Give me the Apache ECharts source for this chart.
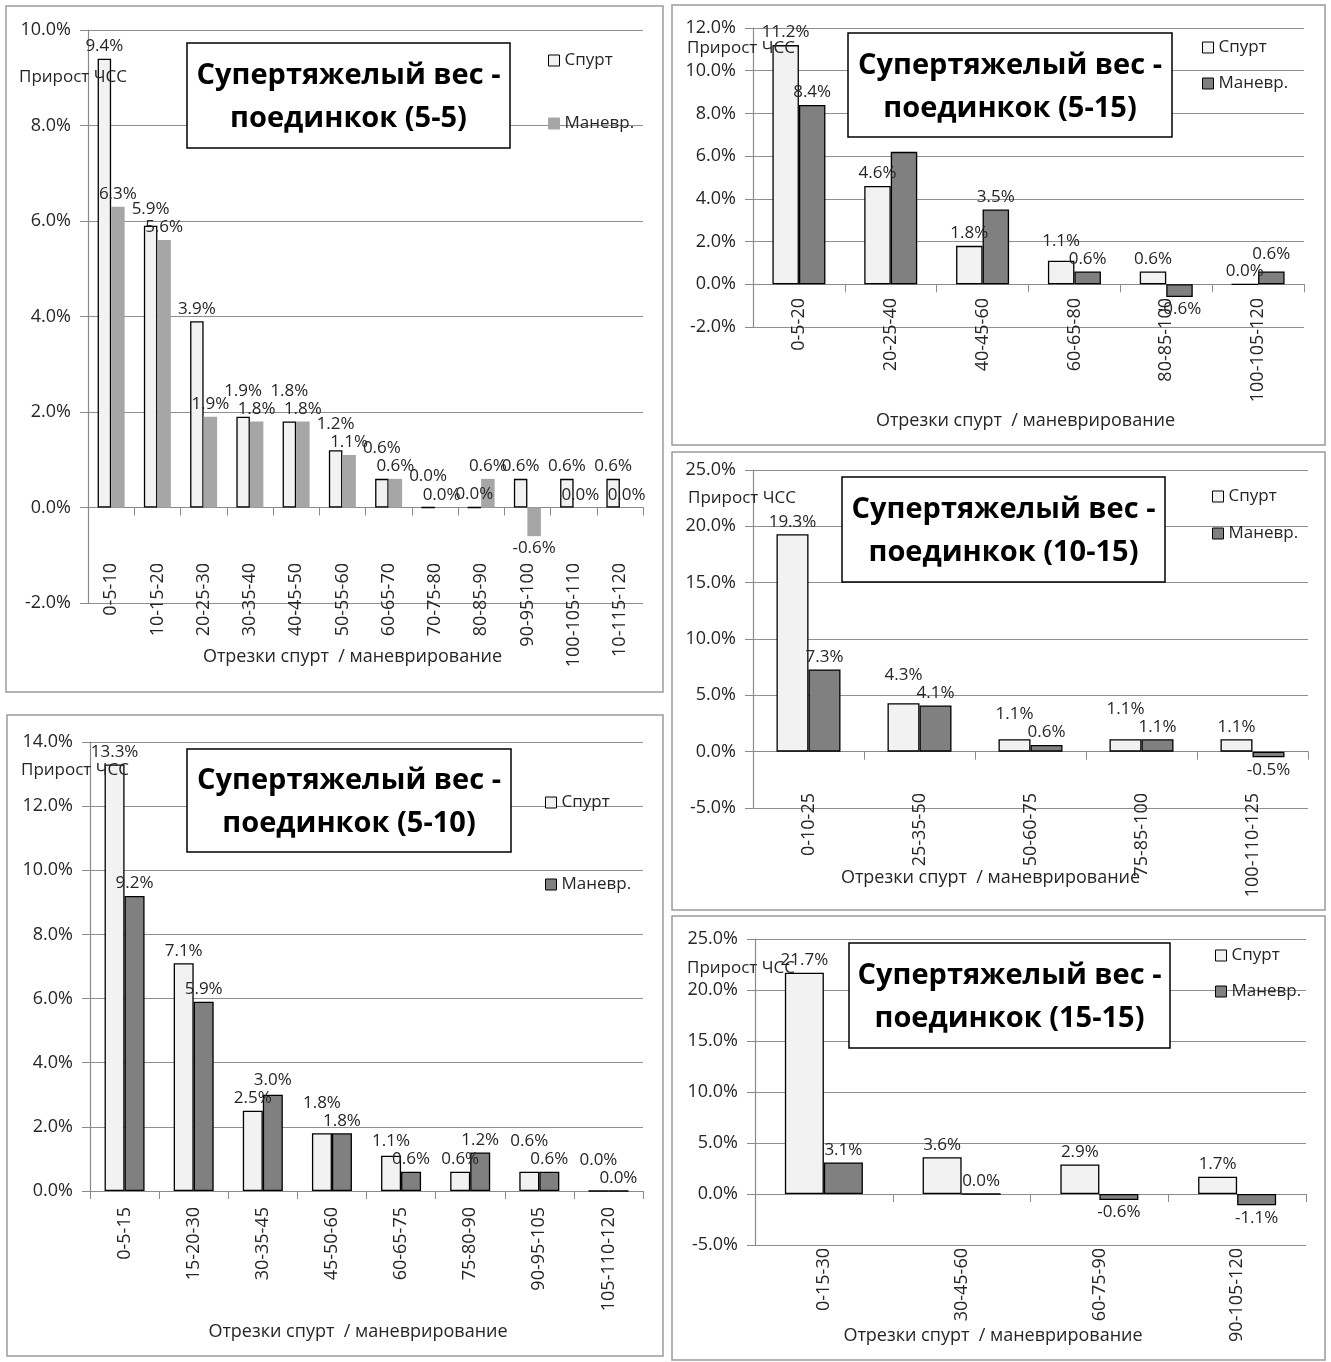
<!DOCTYPE html>
<html>
<head>
<meta charset="utf-8">
<script src="https://cdn.jsdelivr.net/npm/echarts@6/dist/echarts.min.js"></script>
<style>
  html, body { margin: 0; padding: 0; background: #fff; }
  #chart { width: 1331px; height: 1362px; }
</style>
</head>
<body>
<div id="chart"></div>
<script>
// Heart-rate increase (%) per interval: sprint vs manoeuvring, super-heavyweight bouts.
const seriesNames = ['Спурт', 'Маневр.'];
const titleLine1 = 'Супертяжелый вес -';
const yName = 'Прирост ЧСС';
const xName = 'Отрезки спурт  / маневрирование';

// bout 5-5
const cats55 = ['0-5-10', '10-15-20', '20-25-30', '30-35-40', '40-45-50', '50-55-60',
  '60-65-70', '70-75-80', '80-85-90', '90-95-100', '100-105-110', '10-115-120'];
const spurt55 = [9.4, 5.9, 3.9, 1.9, 1.8, 1.2, 0.6, 0.0, 0.0, 0.6, 0.6, 0.6];
const manev55 = [6.3, 5.6, 1.9, 1.8, 1.8, 1.1, 0.6, 0.0, 0.6, -0.6, 0.0, 0.0];
const yTicks55 = { min: -2, max: 10, step: 2 };

// bout 5-15
const cats515 = ['0-5-20', '20-25-40', '40-45-60', '60-65-80', '80-85-100', '100-105-120'];
const spurt515 = [11.2, 4.6, 1.8, 1.1, 0.6, 0.0];
const manev515 = [8.4, 6.2, 3.5, 0.6, -0.6, 0.6];
const yTicks515 = { min: -2, max: 12, step: 2 };

// bout 10-15
const cats1015 = ['0-10-25', '25-35-50', '50-60-75', '75-85-100', '100-110-125'];
const spurt1015 = [19.3, 4.3, 1.1, 1.1, 1.1];
const manev1015 = [7.3, 4.1, 0.6, 1.1, -0.5];
const yTicks1015 = { min: -5, max: 25, step: 5 };

// bout 5-10
const cats510 = ['0-5-15', '15-20-30', '30-35-45', '45-50-60', '60-65-75', '75-80-90',
  '90-95-105', '105-110-120'];
const spurt510 = [13.3, 7.1, 2.5, 1.8, 1.1, 0.6, 0.6, 0.0];
const manev510 = [9.2, 5.9, 3.0, 1.8, 0.6, 1.2, 0.6, 0.0];
const yTicks510 = { min: 0, max: 14, step: 2 };

// bout 15-15
const cats1515 = ['0-15-30', '30-45-60', '60-75-90', '90-105-120'];
const spurt1515 = [21.7, 3.6, 2.9, 1.7];
const manev1515 = [3.1, 0.0, -0.6, -1.1];
const yTicks1515 = { min: -5, max: 25, step: 5 };

const FONT = '"Open Sans", "Noto Sans", sans-serif';
const TEXT = '#262626';
const GRID_LINE = '#8f8f8f';
const LABEL_STEP = 18; // minimal vertical spacing between the two value labels of a pair

// Layout of the five panels (label margin and name gap are measured from the grid bottom)
const panels = [
  { bout: '5-5', cats: cats55, spurt: spurt55, manev: manev55, y: yTicks55, hideManev: [],
    frame: [6, 6, 657, 686], grid: [88, 30, 555, 573], barWidth: 13.5,
    labelMargin: -40, nameGap: 45, namePad: 26,
    box: [187, 43, 323, 105], yNamePos: [73, 77], legend: [548, 52, 46],
    manevColor: '#a6a6a6', manevBorder: 0 },
  { bout: '5-15', cats: cats515, spurt: spurt515, manev: manev515, y: yTicks515, hideManev: [1],
    frame: [672, 5, 653, 440], grid: [753, 28, 551, 299], barWidth: 26.5,
    labelMargin: -29, nameGap: 85, namePad: 6,
    box: [848, 33, 324, 104], yNamePos: [741, 48], legend: [1202, 39, 19],
    manevColor: '#808080', manevBorder: 1.3 },
  { bout: '10-15', cats: cats1015, spurt: spurt1015, manev: manev1015, y: yTicks1015, hideManev: [],
    frame: [672, 452, 653, 458], grid: [753, 470, 555, 338], barWidth: 32,
    labelMargin: -15, nameGap: 61, namePad: 80,
    box: [842, 477, 323, 105], yNamePos: [742, 498], legend: [1212, 488, 20],
    manevColor: '#808080', manevBorder: 1.3 },
  { bout: '5-10', cats: cats510, spurt: spurt510, manev: manev510, y: yTicks510, hideManev: [],
    frame: [7, 715, 656, 641], grid: [90, 742, 553, 449], barWidth: 20,
    labelMargin: 16, nameGap: 132, namePad: 17,
    box: [187, 749, 324, 103], yNamePos: [75, 770], legend: [545, 794, 65],
    manevColor: '#808080', manevBorder: 1.3 },
  { bout: '15-15', cats: cats1515, spurt: spurt1515, manev: manev1515, y: yTicks1515, hideManev: [],
    frame: [672, 916, 653, 444], grid: [755, 939, 551, 306], barWidth: 39,
    labelMargin: 3, nameGap: 82, namePad: 75,
    box: [849, 943, 321, 105], yNamePos: [741, 968], legend: [1215, 947, 19],
    manevColor: '#808080', manevBorder: 1.3 }
];

const pct = v => Number(v).toFixed(1) + '%';

// When two neighbouring value labels would collide, raise the one of the taller bar.
function labelLifts(p) {
  const ppu = p.grid[3] / (p.y.max - p.y.min);
  const s = [], m = [];
  p.spurt.forEach((sv, k) => {
    const mv = p.manev[k];
    let ls = 0, lm = 0;
    const gap = Math.abs(sv - mv) * ppu;
    if (p.barWidth < 40 && sv >= 0 && mv >= 0 && gap < LABEL_STEP && !p.hideManev.includes(k)) {
      if (sv >= mv) ls = LABEL_STEP - gap; else lm = LABEL_STEP - gap;
    }
    s.push(ls); m.push(lm);
  });
  return { s, m };
}

function barItems(values, hidden, lifts) {
  return values.map((v, k) => ({
    value: v,
    label: { show: !hidden.includes(k), position: v < 0 ? 'bottom' : 'top',
      offset: [0, -lifts[k]] }
  }));
}

const grid = [], xAxis = [], yAxis = [], series = [], legend = [], graphic = [];

panels.forEach((p, i) => {
  grid.push({
    left: p.grid[0], top: p.grid[1], width: p.grid[2], height: p.grid[3],
    containLabel: false, outerBoundsMode: 'none'
  });

  xAxis.push({
    type: 'category', gridIndex: i, data: p.cats,
    axisLine: { onZero: true, lineStyle: { color: '#8a8a8a', width: 1.2 } },
    axisTick: { show: true, length: 8, lineStyle: { color: '#8a8a8a' } },
    axisLabel: { interval: 0, rotate: 90, margin: p.labelMargin,
      fontSize: 18, fontFamily: FONT, color: TEXT },
    splitLine: { show: false },
    name: xName, nameLocation: 'middle', nameGap: p.nameGap, nameMoveOverlap: false,
    nameTextStyle: { fontSize: 18, fontFamily: FONT, color: TEXT, padding: [0, p.namePad, 0, 0] }
  });

  yAxis.push({
    type: 'value', gridIndex: i, min: p.y.min, max: p.y.max, interval: p.y.step,
    axisLine: { show: true, lineStyle: { color: '#8a8a8a', width: 1.2 } },
    axisTick: { show: true, length: 8, lineStyle: { color: '#8a8a8a' } },
    axisLabel: { formatter: pct, margin: 17, fontSize: 18, fontFamily: FONT, color: TEXT },
    splitLine: { show: true, lineStyle: { color: GRID_LINE, width: 1.2 } }
  });

  const labelStyle = { show: true, formatter: prm => pct(prm.value),
    fontSize: 17, fontFamily: FONT, color: TEXT, distance: 4 };
  const lifts = labelLifts(p);

  series.push({
    type: 'bar', name: seriesNames[0], xAxisIndex: i, yAxisIndex: i,
    barWidth: p.barWidth, barGap: '0%',
    itemStyle: { color: '#f2f2f2', borderColor: '#000', borderWidth: 1.3 },
    label: labelStyle,
    data: barItems(p.spurt, [], lifts.s)
  });
  series.push({
    type: 'bar', name: seriesNames[1], xAxisIndex: i, yAxisIndex: i,
    barWidth: p.barWidth, barGap: '0%',
    itemStyle: { color: p.manevColor, borderColor: '#000', borderWidth: p.manevBorder },
    label: labelStyle,
    data: barItems(p.manev, p.hideManev, lifts.m)
  });

  legend.push({
    orient: 'vertical', left: p.legend[0], top: p.legend[1], itemGap: p.legend[2],
    itemWidth: 11, itemHeight: 11, icon: 'rect', padding: 0,
    textStyle: { fontSize: 17, fontFamily: FONT, color: TEXT },
    data: [
      { name: seriesNames[0], itemStyle: { color: '#f2f2f2', borderColor: '#000', borderWidth: 1 } },
      { name: seriesNames[1], itemStyle: { color: p.manevColor,
        borderColor: p.manevBorder ? '#000' : p.manevColor, borderWidth: 1 } }
    ]
  });

  // panel frame
  graphic.push({
    type: 'rect', z: 1, silent: true,
    shape: { x: p.frame[0], y: p.frame[1], width: p.frame[2], height: p.frame[3] },
    style: { fill: 'none', stroke: '#9a9a9a', lineWidth: 1.5 }
  });
  // boxed title
  graphic.push({
    type: 'rect', z: 50, silent: true,
    shape: { x: p.box[0], y: p.box[1], width: p.box[2], height: p.box[3] },
    style: { fill: '#fff', stroke: '#000', lineWidth: 1.5 }
  });
  graphic.push({
    type: 'text', z: 51, silent: true,
    x: p.box[0] + p.box[2] / 2, y: p.box[1] + p.box[3] / 2 + 2,
    style: { text: titleLine1 + '\nпоединкок (' + p.bout + ')',
      fontSize: 29, fontWeight: 'bold', fontFamily: FONT, fill: '#000',
      align: 'center', verticalAlign: 'middle', lineHeight: 43 }
  });
  // value-axis caption
  graphic.push({
    type: 'text', z: 40, silent: true,
    x: p.yNamePos[0], y: p.yNamePos[1],
    style: { text: yName, fontSize: 17, fontFamily: FONT, fill: TEXT,
      align: 'center', verticalAlign: 'middle' }
  });
});

const chart = echarts.init(document.getElementById('chart'), null, { renderer: 'canvas' });
chart.setOption({
  backgroundColor: '#fff',
  animation: false,
  grid, xAxis, yAxis, series, legend, graphic
});
</script>
</body>
</html>
